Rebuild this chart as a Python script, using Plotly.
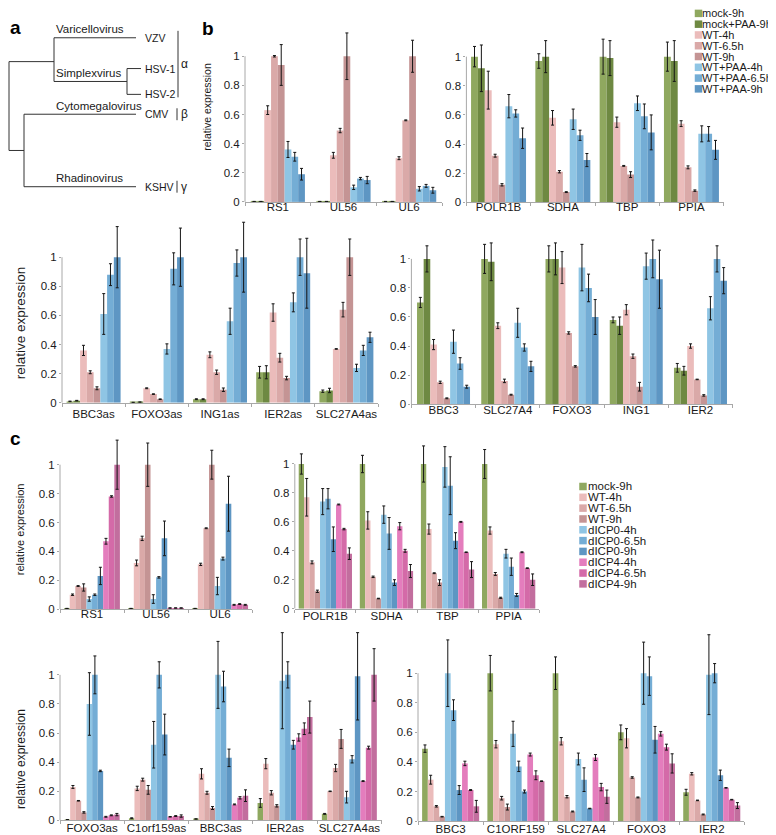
import plotly.graph_objects as go

W, H = 776, 835
FONT = "Liberation Sans, Arial, Helvetica, sans-serif"
AX = "#a8a8a8"
TXT = "#1a1a1a"

# ---------------- data ----------------
# panel a: cladogram (leaf order, branch depths)
tree_leaves = ["VZV", "HSV-1", "HSV-2", "CMV", "KSHV"]
tree_leaf_rows = [30, 61, 87, 107, 180]
tree_leaf_depth = [128, 133, 133, 128, 128]
tree_genera = ["Varicellovirus", "Simplexvirus", "Cytomegalovirus", "Rhadinovirus"]
tree_classes = ["α", "β", "γ"]

# panel b
b_series = ["mock-9h", "mock+PAA-9h", "WT-4h", "WT-6.5h", "WT-9h",
            "WT+PAA-4h", "WT+PAA-6.5h", "WT+PAA-9h"]
b_colors = ["#8fa85f", "#6e8942", "#ebbcbb", "#daa9a8", "#c49494",
            "#8fc5e4", "#74add5", "#5e96c3"]

b_viral_genes = ["RS1", "UL56", "UL6"]
b_viral_values = [
    [0.003, 0.003, 0.63, 1.0, 0.94, 0.36, 0.31, 0.19],
    [0.003, 0.003, 0.32, 0.49, 1.0, 0.10, 0.16, 0.15],
    [0.003, 0.003, 0.30, 0.56, 1.0, 0.09, 0.11, 0.08],
]
b_viral_errors = [
    [0, 0, 0.03, 0.005, 0.14, 0.055, 0.03, 0.04],
    [0, 0, 0.02, 0.015, 0.16, 0.015, 0.008, 0.025],
    [0, 0, 0.01, 0.003, 0.11, 0.015, 0.01, 0.02],
]

b_host_genes = ["POLR1B", "SDHA", "TBP", "PPIA"]
b_host_values = [
    [1.0, 0.92, 0.77, 0.32, 0.12, 0.66, 0.61, 0.44],
    [0.97, 1.0, 0.58, 0.21, 0.07, 0.57, 0.46, 0.29],
    [1.0, 0.99, 0.55, 0.25, 0.19, 0.68, 0.59, 0.48],
    [1.0, 0.97, 0.54, 0.24, 0.08, 0.47, 0.47, 0.36],
]
b_host_errors = [
    [0.07, 0.16, 0.13, 0.01, 0.008, 0.08, 0.025, 0.07],
    [0.05, 0.11, 0.05, 0.008, 0.003, 0.07, 0.035, 0.045],
    [0.12, 0.12, 0.035, 0.003, 0.02, 0.05, 0.085, 0.12],
    [0.10, 0.14, 0.02, 0.01, 0.005, 0.055, 0.05, 0.065],
]

b_as_genes = ["BBC3as", "FOXO3as", "ING1as", "IER2as", "SLC27A4as"]
b_as_values = [
    [0.01, 0.015, 0.36, 0.21, 0.10, 0.61, 0.88, 1.0],
    [0.003, 0.005, 0.10, 0.06, 0.025, 0.37, 0.92, 1.0],
    [0.025, 0.025, 0.33, 0.21, 0.09, 0.56, 0.96, 1.0],
    [0.21, 0.21, 0.62, 0.31, 0.17, 0.69, 1.0, 0.89],
    [0.08, 0.085, 0.37, 0.64, 1.0, 0.24, 0.36, 0.45],
]
b_as_errors = [
    [0.002, 0.002, 0.035, 0.01, 0.01, 0.14, 0.075, 0.21],
    [0.001, 0.001, 0.003, 0.002, 0.002, 0.035, 0.11, 0.20],
    [0.003, 0.003, 0.02, 0.015, 0.012, 0.09, 0.09, 0.24],
    [0.04, 0.045, 0.06, 0.03, 0.012, 0.065, 0.125, 0.24],
    [0.008, 0.015, 0.002, 0.05, 0.125, 0.025, 0.035, 0.035],
]

b_sense_genes = ["BBC3", "SLC27A4", "FOXO3", "ING1", "IER2"]
b_sense_values = [
    [0.70, 1.0, 0.41, 0.15, 0.04, 0.43, 0.28, 0.12],
    [1.0, 0.98, 0.54, 0.16, 0.065, 0.56, 0.39, 0.26],
    [1.0, 1.0, 0.94, 0.49, 0.26, 0.94, 0.80, 0.60],
    [0.58, 0.54, 0.65, 0.33, 0.12, 0.95, 1.0, 0.86],
    [0.25, 0.23, 0.40, 0.17, 0.06, 0.66, 1.0, 0.85],
]
b_sense_errors = [
    [0.035, 0.09, 0.035, 0.008, 0.003, 0.08, 0.04, 0.01],
    [0.10, 0.13, 0.02, 0.012, 0.003, 0.10, 0.025, 0.035],
    [0.09, 0.11, 0.11, 0.008, 0.005, 0.16, 0.095, 0.12],
    [0.02, 0.06, 0.035, 0.015, 0.03, 0.09, 0.13, 0.20],
    [0.03, 0.03, 0.015, 0.002, 0.005, 0.08, 0.09, 0.09],
]

# panel c
c_series = ["mock-9h", "WT-4h", "WT-6.5h", "WT-9h", "dICP0-4h", "dICP0-6.5h",
            "dICP0-9h", "dICP4-4h", "dICP4-6.5h", "dICP4-9h"]
c_colors = ["#8fa85f", "#ebbcbb", "#daa9a8", "#c49494", "#8fc5e4", "#74add5",
            "#5e96c3", "#e47dbd", "#d46aa8", "#c26e9e"]

c_viral_genes = ["RS1", "UL56", "UL6"]
c_viral_values = [
    [0.005, 0.10, 0.16, 0.15, 0.07, 0.10, 0.23, 0.47, 0.78, 1.0],
    [0.005, 0.32, 0.49, 1.0, 0.07, 0.22, 0.49, 0.008, 0.008, 0.008],
    [0.005, 0.31, 0.56, 1.0, 0.16, 0.35, 0.73, 0.03, 0.035, 0.03],
]
c_viral_errors = [
    [0, 0.005, 0.003, 0.025, 0.015, 0.005, 0.06, 0.02, 0.005, 0.17],
    [0, 0.02, 0.015, 0.15, 0.03, 0.005, 0.12, 0.001, 0.001, 0.001],
    [0, 0.008, 0.003, 0.10, 0.06, 0.01, 0.19, 0.003, 0.003, 0.003],
]

c_host_genes = ["POLR1B", "SDHA", "TBP", "PPIA"]
c_host_values = [
    [1.0, 0.77, 0.32, 0.12, 0.74, 0.76, 0.48, 0.72, 0.55, 0.38],
    [1.0, 0.61, 0.22, 0.07, 0.65, 0.52, 0.18, 0.57, 0.40, 0.26],
    [1.0, 0.55, 0.245, 0.18, 0.98, 0.85, 0.47, 0.60, 0.39, 0.27],
    [1.0, 0.54, 0.24, 0.075, 0.38, 0.29, 0.095, 0.39, 0.28, 0.20],
]
c_host_errors = [
    [0.07, 0.13, 0.01, 0.008, 0.09, 0.07, 0.085, 0.003, 0.005, 0.04],
    [0.06, 0.06, 0.005, 0.002, 0.06, 0.11, 0.02, 0.025, 0.01, 0.045],
    [0.125, 0.035, 0.003, 0.02, 0.14, 0.20, 0.055, 0.003, 0.002, 0.055],
    [0.10, 0.025, 0.01, 0.004, 0.03, 0.06, 0.01, 0.003, 0.002, 0.04],
]

c_as_genes = ["FOXO3as", "C1orf159as", "BBC3as", "IER2as", "SLC27A4as"]
c_as_values = [
    [0.005, 0.23, 0.135, 0.055, 0.80, 1.0, 0.34, 0.025, 0.035, 0.04],
    [0.015, 0.22, 0.28, 0.21, 0.52, 1.0, 0.59, 0.025, 0.03, 0.03],
    [0.01, 0.32, 0.19, 0.085, 1.0, 0.92, 0.43, 0.11, 0.155, 0.17],
    [0.12, 0.39, 0.19, 0.10, 0.96, 1.0, 0.52, 0.57, 0.63, 0.71],
    [0.045, 0.20, 0.36, 0.56, 0.16, 0.42, 0.99, 0.27, 0.50, 1.0],
]
c_as_errors = [
    [0.001, 0.01, 0.002, 0.005, 0.215, 0.13, 0.005, 0.003, 0.003, 0.008],
    [0.003, 0.015, 0.01, 0.03, 0.16, 0.09, 0.14, 0.002, 0.003, 0.008],
    [0.001, 0.035, 0.01, 0.01, 0.23, 0.105, 0.06, 0.003, 0.008, 0.04],
    [0.03, 0.035, 0.015, 0.008, 0.33, 0.09, 0.03, 0.025, 0.04, 0.11],
    [0.003, 0.002, 0.025, 0.065, 0.04, 0.025, 0.30, 0.003, 0.01, 0.18],
]

c_sense_genes = ["BBC3", "C1ORF159", "SLC27A4", "FOXO3", "IER2"]
c_sense_values = [
    [0.49, 0.28, 0.10, 0.03, 1.0, 0.75, 0.21, 0.39, 0.21, 0.10],
    [1.0, 0.52, 0.155, 0.095, 0.59, 0.37, 0.20, 0.45, 0.31, 0.27],
    [1.0, 0.54, 0.165, 0.065, 0.42, 0.28, 0.085, 0.43, 0.23, 0.165],
    [0.60, 0.56, 0.295, 0.16, 1.0, 0.98, 0.55, 0.59, 0.50, 0.39],
    [0.195, 0.32, 0.14, 0.045, 0.99, 1.0, 0.31, 0.225, 0.145, 0.105],
]
c_sense_errors = [
    [0.025, 0.03, 0.005, 0.002, 0.225, 0.07, 0.03, 0.015, 0.003, 0.04],
    [0.12, 0.025, 0.012, 0.02, 0.085, 0.035, 0.01, 0.01, 0.03, 0.002],
    [0.11, 0.025, 0.008, 0.003, 0.04, 0.08, 0.002, 0.02, 0.025, 0.045],
    [0.05, 0.065, 0.005, 0.003, 0.21, 0.13, 0.09, 0.015, 0.02, 0.065],
    [0.02, 0.008, 0.002, 0.003, 0.27, 0.065, 0.035, 0.002, 0.002, 0.02],
]

y_tick_values = [0, 0.2, 0.4, 0.6, 0.8, 1]
y_tick_labels = ["0", "0.2", "0.4", "0.6", "0.8", "1"]
y_title = "relative expression"


# ---------------- helpers ----------------
def fx(px):
    return px / W


def fy(py):
    return 1 - py / H


fig = go.Figure()
layout = {}
annotations = []
shapes = []

# ---------------- panel a : tree ----------------
alpha_node = 46
simplex_node = 119
bg_node = 16
root_x = 1
seg_x, seg_y = [], []


def seg(x0, y0, x1, y1):
    seg_x.extend([x0, x1, None])
    seg_y.extend([y0, y1, None])


r = tree_leaf_rows
d = tree_leaf_depth
simplex_y = (r[1] + r[2]) / 2
alpha_y = (r[0] + simplex_y) / 2 + 2
bg_y = (r[3] + r[4]) / 2
# leaves
seg(alpha_node, r[0], d[0], r[0])
seg(simplex_node, r[1], d[1], r[1])
seg(simplex_node, r[2], d[2], r[2])
seg(bg_node, r[3], d[3], r[3])
seg(bg_node, r[4], d[4], r[4])
# internal
seg(simplex_node, r[1], simplex_node, r[2])
seg(alpha_node, simplex_y, simplex_node, simplex_y)
seg(alpha_node, r[0], alpha_node, simplex_y)
seg(bg_node, r[3], bg_node, r[4])
seg(root_x, alpha_y, alpha_node, alpha_y)
seg(root_x, bg_y, bg_node, bg_y)
seg(root_x, alpha_y, root_x, bg_y)
# class brackets
seg(170, r[0] - 7, 170, r[2] + 3)
seg(169, r[3] - 6, 169, r[3] + 6)
seg(169, r[4] - 6, 169, r[4] + 6)

fig.add_trace(go.Scatter(x=seg_x, y=seg_y, mode="lines", line=dict(color="#333", width=1),
                         xaxis="x", yaxis="y", showlegend=False, hoverinfo="skip", cliponaxis=False))
layout["xaxis"] = dict(domain=[0, fx(195)], range=[0, 195], visible=False, fixedrange=True)
layout["yaxis"] = dict(domain=[fy(195), 1], range=[195, 0], visible=False, fixedrange=True)

for name, y in zip(tree_leaves, tree_leaf_rows):
    annotations.append(dict(x=135, y=y, xref="x", yref="y", text=name, showarrow=False,
                            xanchor="left", yanchor="middle", font=dict(size=10.5, color=TXT)))
genus_rows = [r[0], simplex_y, r[3], r[4]]
for name, y in zip(tree_genera, genus_rows):
    annotations.append(dict(x=46, y=y - 0.5, xref="x", yref="y", text=name, showarrow=False,
                            xanchor="left", yanchor="bottom", font=dict(size=11.5, color=TXT)))
class_rows = [(r[0] + r[2]) / 2 - 2, r[3], r[4]]
for name, y in zip(tree_classes, class_rows):
    annotations.append(dict(x=171, y=y, xref="x", yref="y", text=name, showarrow=False,
                            xanchor="left", yanchor="middle", font=dict(size=12, color=TXT)))

# ---------------- bar panels ----------------
panels = [
    dict(cats=b_viral_genes, series=b_series, colors=b_colors, vals=b_viral_values, errs=b_viral_errors,
         xpx=(237, 434), y0=195.3, ppu=146.7, ytop=10, fill=0.825, stand=-6),
    dict(cats=b_host_genes, series=b_series, colors=b_colors, vals=b_host_values, errs=b_host_errors,
         xpx=(458.4, 715.6), y0=195.7, ppu=146.7, ytop=10, fill=0.855, stand=-6),
    dict(cats=b_as_genes, series=b_series, colors=b_colors, vals=b_as_values, errs=b_as_errors,
         xpx=(54, 370), y0=397.7, ppu=146.7, ytop=205, fill=0.854, stand=0),
    dict(cats=b_sense_genes, series=b_series, colors=b_colors, vals=b_sense_values, errs=b_sense_errors,
         xpx=(403.4, 724.6), y0=399, ppu=146.3, ytop=205, fill=0.825, stand=-5),
    dict(cats=c_viral_genes, series=c_series, colors=c_colors, vals=c_viral_values, errs=c_viral_errors,
         xpx=(52, 244.2), y0=605.5, ppu=145.5, ytop=425, fill=0.87, stand=-6),
    dict(cats=c_host_genes, series=c_series, colors=c_colors, vals=c_host_values, errs=c_host_errors,
         xpx=(286.8, 531.2), y0=605, ppu=145.7, ytop=425, fill=0.872, stand=-3),
    dict(cats=c_as_genes, series=c_series, colors=c_colors, vals=c_as_values, errs=c_as_errors,
         xpx=(52, 373.5), y0=818.3, ppu=146.6, ytop=625, fill=0.855, stand=-3),
    dict(cats=c_sense_genes, series=c_series, colors=c_colors, vals=c_sense_values, errs=c_sense_errors,
         xpx=(410, 736.4), y0=819, ppu=149, ytop=625, fill=0.874, stand=-3),
]

for k, p in enumerate(panels, start=2):
    xa, ya = f"x{k}", f"y{k}"
    n = len(p["series"])
    f = p["fill"]
    bw = f / n
    for i, s in enumerate(p["series"]):
        fig.add_trace(go.Bar(
            x=p["cats"], y=[row[i] for row in p["vals"]], name=s,
            error_y=dict(type="data", array=[row[i] for row in p["errs"]],
                         color="#151515", thickness=1, width=1.5),
            marker=dict(color=p["colors"][i], line=dict(width=0)),
            width=bw, offset=-f / 2 + i * bw,
            xaxis=xa, yaxis=ya, showlegend=False))
    ymax = (p["y0"] - p["ytop"]) / p["ppu"]
    layout[f"xaxis{k}"] = dict(
        domain=[fx(p["xpx"][0]), fx(p["xpx"][1])], anchor=ya, type="category",
        categoryorder="array", categoryarray=p["cats"], range=[-0.5, len(p["cats"]) - 0.5],
        showline=True, linecolor=AX, linewidth=1, ticks="outside", tickson="boundaries",
        ticklen=3, tickcolor=AX, tickfont=dict(size=11.5, color=TXT), tickangle=0,
        ticklabelstandoff=p["stand"], showgrid=False, zeroline=False, fixedrange=True)
    layout[f"yaxis{k}"] = dict(
        domain=[fy(p["y0"]), fy(p["ytop"])], anchor=xa, range=[0, ymax],
        showline=False, showgrid=False, zeroline=False, tickvals=y_tick_values,
        ticktext=y_tick_labels, ticks="outside", ticklen=2, tickcolor=AX,
        tickfont=dict(size=11.5, color=TXT), fixedrange=True)
    shapes.append(dict(type="line", xref=f"{xa} domain", x0=0, x1=0, yref=ya, y0=0, y1=1,
                       line=dict(color=AX, width=1)))

# ---------------- legends ----------------
legend_specs = [
    dict(series=b_series, colors=b_colors, x=690.5, top=0.0, step=10.86, size=11, tx=2.5),
    dict(series=c_series, colors=c_colors, x=575.0, top=476.5, step=10.9, size=11.5, tx=3.5),
]
for j, lg in enumerate(legend_specs, start=len(panels) + 2):
    n = len(lg["series"])
    xa, ya = f"x{j}", f"y{j}"
    fig.add_trace(go.Scatter(
        x=[0] * n, y=list(range(n)), mode="markers",
        marker=dict(symbol="square", size=7.5, color=lg["colors"], line=dict(width=0)),
        xaxis=xa, yaxis=ya, showlegend=False, cliponaxis=False, hoverinfo="skip"))
    layout[f"xaxis{j}"] = dict(domain=[fx(lg["x"]), fx(lg["x"] + 60)], range=[0, 60],
                               visible=False, fixedrange=True, anchor=ya)
    layout[f"yaxis{j}"] = dict(domain=[fy(lg["top"] + n * lg["step"]), fy(lg["top"])],
                               range=[n - 0.5, -0.5], visible=False, fixedrange=True, anchor=xa)
    for i, s in enumerate(lg["series"]):
        annotations.append(dict(x=lg["tx"], y=i, xref=xa, yref=ya, text=s, showarrow=False,
                                xanchor="left", yanchor="middle", borderpad=0,
                                font=dict(size=lg["size"], color=TXT)))

# ---------------- y titles & panel letters ----------------
for (xp, yp, size) in [(199, 99.5, 10.5), (12.5, 317, 13.5), (12, 525, 11), (12.5, 757, 12)]:
    annotations.append(dict(x=fx(xp), y=fy(yp), xref="paper", yref="paper", text=y_title,
                            textangle=-90, showarrow=False, xanchor="center", yanchor="middle",
                            font=dict(size=size, color=TXT)))
for (letter, xp, yp) in [("a", 0, 20), ("b", 192, 21), ("c", 0, 434)]:
    annotations.append(dict(x=fx(xp), y=fy(yp), xref="paper", yref="paper", text=f"<b>{letter}</b>",
                            showarrow=False, xanchor="left", yanchor="middle",
                            font=dict(size=19, color="#000")))

fig.update_layout(
    width=W, height=H, margin=dict(l=0, r=0, t=0, b=0), autosize=False,
    paper_bgcolor="white", plot_bgcolor="white", barmode="overlay",
    font=dict(family=FONT, color=TXT), showlegend=False,
    annotations=annotations, shapes=shapes, **layout)

fig.write_html("out.html", config={"displayModeBar": False})
